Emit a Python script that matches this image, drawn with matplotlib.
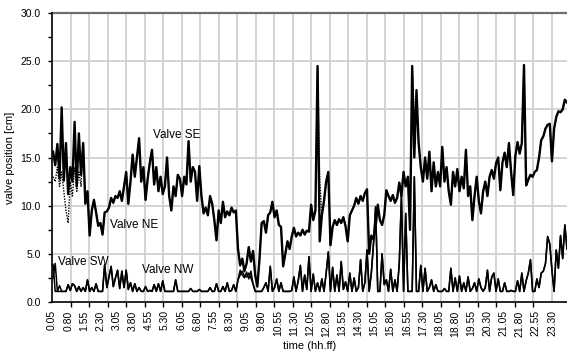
import matplotlib
matplotlib.use("Agg")
import matplotlib.pyplot as plt
import numpy as np

plt.rcParams['font.family'] = ['Liberation Sans', 'DejaVu Sans']

# time in hours (hh.ff), one reading every 0.1 h
time_h = [round(0.1 * k, 2) for k in range(1, 241)]

tick_labels = ["0.05", "0.80", "1.55", "2.30", "3.05", "3.80", "4.55", "5.30",
               "6.05", "6.80", "7.55", "8.30", "9.05", "9.80", "10.55", "11.30",
               "12.05", "12.80", "13.55", "14.30", "15.05", "15.80", "16.55",
               "17.30", "18.05", "18.80", "19.55", "20.30", "21.05", "21.80",
               "22.55", "23.30"]
tick_pos = [float(s) for s in tick_labels]

valve_se = [
    15.6, 14.2, 16.4, 12.8, 20.2, 12.6, 16.5, 11.2, 14.0, 12.5,
    18.7, 12.0, 17.5, 13.2, 16.5, 10.2, 11.5, 6.9, 9.5, 10.6,
    9.3, 7.9, 8.2, 7.0, 9.3, 9.4, 9.8, 10.8, 10.3, 11.0,
    10.8, 11.5, 10.5, 12.0, 13.5, 10.2, 12.5, 15.3, 13.0, 15.0,
    17.0, 12.5, 14.0, 10.6, 12.8, 14.5, 15.8, 12.2, 14.0, 11.5,
    13.0, 11.2, 12.0, 15.0, 11.0, 9.5, 12.0, 11.0, 13.2, 12.8,
    11.0, 13.0, 12.2, 16.7, 12.5, 14.0, 13.5, 10.5, 14.1, 11.0,
    9.2, 9.8, 9.0, 11.0, 10.2, 8.5, 6.4, 9.5, 8.2, 10.4,
    8.8, 9.4, 9.0, 9.8, 9.3, 9.5, 5.5, 3.8, 4.5, 3.2,
    4.0, 5.7, 4.2, 5.3, 2.8, 1.6, 4.5, 8.2, 8.4, 7.2,
    9.0, 9.3, 10.4, 8.8, 9.5, 8.0, 7.8, 3.7, 5.0, 6.3,
    5.5, 6.8, 7.7, 6.8, 7.2, 6.9, 7.5, 7.0, 7.4, 7.3,
    10.1, 8.5, 9.5, 24.5, 6.3, 9.0, 10.5, 12.5, 13.5, 5.9,
    7.8, 8.5, 8.0, 8.6, 8.2, 8.8, 7.9, 6.3, 9.0, 9.5,
    10.0, 10.8, 10.2, 11.0, 10.5, 11.3, 11.7, 5.0, 6.9, 6.5,
    7.8, 10.1, 8.5, 8.0, 9.0, 11.6, 11.0, 10.5, 11.1, 10.3,
    10.8, 12.4, 11.0, 13.5, 12.0, 13.0, 7.5, 24.5, 15.0, 22.0,
    16.5, 14.0, 12.5, 15.0, 12.8, 15.6, 11.5, 14.5, 12.0, 13.5,
    12.0, 16.1, 12.5, 14.0, 11.5, 10.1, 13.5, 12.0, 13.8, 11.5,
    13.0, 11.8, 15.8, 11.0, 12.0, 8.5, 11.0, 13.0, 10.5, 9.2,
    11.5, 12.5, 11.0, 13.0, 13.7, 12.8, 14.4, 15.0, 11.6, 14.5,
    15.5, 14.0, 16.5, 13.5, 11.1, 15.2, 16.6, 15.4, 16.5, 24.6,
    12.1, 12.7, 13.2, 13.0, 13.5, 13.7, 15.0, 16.8, 17.2, 18.0,
    18.4, 18.5, 14.6, 18.0, 19.2, 19.8, 19.7, 20.0, 21.0, 20.7,
]

valve_ne = [
    13.0, 12.5, 14.0, 12.0, 13.5, 11.5, 9.5, 8.2, 12.5, 11.0,
    14.0, 11.5, 13.5, 12.0, 16.5, 10.2, 11.5, 6.9, 9.5, 10.6,
    9.3, 7.9, 8.2, 7.0, 9.3, 9.4, 9.8, 10.8, 10.3, 11.0,
    10.8, 11.5, 10.5, 12.0, 13.5, 10.2, 12.5, 15.3, 13.0, 15.0,
    17.0, 12.5, 14.0, 10.6, 12.8, 14.5, 15.8, 12.2, 14.0, 11.5,
    13.0, 11.2, 12.0, 15.0, 11.0, 9.5, 12.0, 11.0, 13.2, 12.8,
    11.0, 13.0, 12.2, 16.7, 12.5, 14.0, 13.5, 10.5, 14.1, 11.0,
    9.2, 9.8, 9.0, 11.0, 10.2, 8.5, 6.4, 9.5, 8.2, 10.4,
    8.8, 9.4, 9.0, 9.8, 9.3, 9.5, 5.5, 3.8, 4.5, 3.2,
    4.0, 5.7, 4.2, 5.3, 2.8, 1.6, 4.5, 8.2, 8.4, 7.2,
    9.0, 9.3, 10.4, 8.8, 9.5, 8.0, 7.8, 3.7, 5.0, 6.3,
    5.5, 6.8, 7.7, 6.8, 7.2, 6.9, 7.5, 7.0, 7.4, 7.3,
    10.1, 8.5, 9.5, 24.5, 12.8, 9.0, 10.5, 12.5, 13.5, 5.9,
    7.8, 8.5, 8.0, 8.6, 8.2, 8.8, 7.9, 6.3, 9.0, 9.5,
    10.0, 10.8, 10.2, 11.0, 10.5, 11.3, 11.7, 5.0, 6.9, 6.5,
    7.8, 10.1, 8.5, 8.0, 9.0, 11.6, 11.0, 10.5, 11.1, 10.3,
    10.8, 12.4, 11.0, 13.5, 12.0, 13.0, 7.5, 24.5, 19.0, 21.0,
    16.5, 14.0, 12.5, 15.0, 12.8, 15.6, 11.5, 14.5, 12.0, 13.5,
    12.0, 16.1, 12.5, 14.0, 11.5, 10.1, 13.5, 12.0, 13.8, 11.5,
    13.0, 11.8, 15.8, 11.0, 12.0, 8.5, 11.0, 13.0, 10.5, 9.2,
    11.5, 12.5, 11.0, 13.0, 13.7, 12.8, 14.4, 15.0, 11.6, 14.5,
    15.5, 14.0, 16.5, 13.5, 11.1, 15.2, 16.6, 15.4, 16.5, 24.6,
    12.1, 12.7, 13.2, 13.0, 13.5, 13.7, 15.0, 16.8, 17.2, 18.0,
    18.4, 18.5, 14.6, 18.0, 19.2, 19.8, 19.7, 20.0, 21.0, 20.7,
]

valve_nw = [
    2.5, 4.0, 1.1, 1.7, 1.1, 1.1, 1.1, 1.8, 1.2, 1.9,
    1.7, 1.1, 1.6, 1.1, 1.5, 1.1, 2.3, 1.1, 1.5, 1.1,
    1.9, 1.1, 1.1, 1.1, 3.9, 1.5, 2.6, 3.7, 1.6, 2.5,
    3.3, 1.4, 3.2, 1.5, 3.3, 1.3, 2.0, 1.1, 1.9, 1.1,
    1.5, 1.1, 1.1, 1.6, 1.1, 1.2, 1.1, 1.8, 1.1, 1.9,
    1.1, 2.2, 1.1, 1.1, 1.1, 1.1, 1.1, 2.3, 1.1, 1.1,
    1.1, 1.1, 1.1, 1.1, 1.4, 1.1, 1.1, 1.1, 1.3, 1.1,
    1.1, 1.1, 1.1, 1.5, 1.1, 1.1, 1.9, 1.1, 1.1, 1.6,
    1.1, 2.0, 1.1, 1.2, 1.8, 1.1, 2.3, 3.3, 2.8, 2.5,
    3.1, 2.4, 3.2, 1.9, 1.1, 1.1, 1.1, 1.1, 1.5, 2.0,
    1.1, 3.7, 1.1, 1.5, 2.4, 1.1, 2.0, 1.1, 1.1, 1.1,
    1.1, 1.2, 2.6, 1.1, 2.2, 3.8, 1.1, 2.8, 1.3, 4.7,
    1.1, 2.9, 1.1, 2.0, 1.1, 2.4, 1.1, 3.0, 5.2, 1.1,
    3.6, 1.1, 2.8, 1.1, 4.2, 1.3, 2.1, 1.1, 3.0, 1.1,
    2.5, 1.1, 1.5, 4.4, 1.1, 2.0, 5.4, 1.1, 3.0, 6.0,
    9.9, 1.1, 1.1, 5.0, 1.8, 2.3, 1.1, 3.4, 1.1, 2.3,
    1.1, 4.0, 11.0, 1.1, 9.2, 1.1, 1.1, 1.1, 13.0, 1.1,
    1.1, 3.8, 1.1, 3.5, 1.1, 1.5, 2.3, 1.1, 1.8, 1.1,
    1.1, 1.1, 1.4, 1.1, 1.1, 3.5, 1.1, 2.5, 1.1, 2.7,
    1.1, 2.0, 1.1, 2.6, 1.1, 1.4, 2.0, 1.1, 2.4, 1.5,
    1.1, 1.5, 3.3, 1.1, 2.6, 3.0, 1.1, 2.4, 1.1, 1.1,
    2.0, 1.1, 1.1, 1.2, 1.1, 1.1, 2.2, 1.1, 3.0, 1.1,
    2.2, 3.0, 4.4, 1.1, 1.1, 2.4, 1.5, 3.0, 3.2, 4.0,
    6.8, 6.0, 3.3, 1.1, 5.4, 3.5, 6.9, 4.5, 8.0, 5.5,
]

valve_sw = [
    3.9, 1.1, 1.1, 1.1, 1.1, 1.1, 1.1, 1.8, 1.2, 1.9,
    1.7, 1.1, 1.6, 1.1, 1.5, 1.1, 2.3, 1.1, 1.5, 1.1,
    1.9, 1.1, 1.1, 1.1, 3.9, 1.5, 2.6, 3.7, 1.6, 2.5,
    3.3, 1.4, 3.2, 1.5, 3.3, 1.3, 2.0, 1.1, 1.9, 1.1,
    1.5, 1.1, 1.1, 1.6, 1.1, 1.2, 1.1, 1.8, 1.1, 1.9,
    1.1, 2.2, 1.1, 1.1, 1.1, 1.1, 1.1, 2.3, 1.1, 1.1,
    1.1, 1.1, 1.1, 1.1, 1.4, 1.1, 1.1, 1.1, 1.3, 1.1,
    1.1, 1.1, 1.1, 1.5, 1.1, 1.1, 1.9, 1.1, 1.1, 1.6,
    1.1, 2.0, 1.1, 1.2, 1.8, 1.1, 2.3, 2.8, 3.2, 2.7,
    2.6, 3.0, 2.5, 1.9, 1.1, 1.1, 1.1, 1.1, 1.5, 2.0,
    1.1, 3.7, 1.1, 1.5, 2.4, 1.1, 2.0, 1.1, 1.1, 1.1,
    1.1, 1.2, 2.6, 1.1, 2.2, 3.8, 1.1, 2.8, 1.3, 4.7,
    1.1, 2.9, 1.1, 2.0, 1.1, 2.4, 1.1, 3.0, 5.2, 1.1,
    3.6, 1.1, 2.8, 1.1, 4.2, 1.3, 2.1, 1.1, 3.0, 1.1,
    2.5, 1.1, 1.5, 4.4, 1.1, 2.0, 5.4, 1.1, 3.0, 6.0,
    9.9, 1.1, 1.1, 5.0, 1.8, 2.3, 1.1, 3.4, 1.1, 2.3,
    1.1, 4.0, 11.0, 1.1, 9.2, 1.1, 1.1, 1.1, 13.0, 1.1,
    1.1, 3.8, 1.1, 3.5, 1.1, 1.5, 2.3, 1.1, 1.8, 1.1,
    1.1, 1.1, 1.4, 1.1, 1.1, 3.5, 1.1, 2.5, 1.1, 2.7,
    1.1, 2.0, 1.1, 2.6, 1.1, 1.4, 2.0, 1.1, 2.4, 1.5,
    1.1, 1.5, 3.3, 1.1, 2.6, 3.0, 1.1, 2.4, 1.1, 1.1,
    2.0, 1.1, 1.1, 1.2, 1.1, 1.1, 2.2, 1.1, 3.0, 1.1,
    2.2, 3.0, 4.4, 1.1, 1.1, 2.4, 1.5, 3.0, 3.2, 4.0,
    6.8, 6.0, 3.3, 1.1, 5.4, 3.5, 6.9, 4.5, 8.0, 5.5,
]

fig = plt.figure(figsize=(5.67, 3.52), dpi=100)
ax = fig.add_axes([52 / 567, 50 / 352, 515 / 567, 289 / 352])

ax.plot(time_h, valve_sw, color='black', lw=1.1, zorder=3)
ax.plot(time_h, valve_nw, color='black', lw=1.1, zorder=3)
ax.plot(time_h, valve_ne, color='black', lw=1.0, ls=(0, (1, 1)), zorder=3)
ax.plot(time_h, valve_se, color='black', lw=1.7, zorder=4)

ax.set_xlim(0.05, 24.0)
ax.set_ylim(0, 30)

# category labels every 0.75 h
ax.set_xticks(tick_pos)
ax.set_xticklabels(tick_labels, rotation=90, fontsize=7.5)
ax.tick_params(axis='x', which='major', length=0, pad=6)
# tick marks / vertical gridlines
grid_x = np.linspace(tick_pos[0], tick_pos[-1], 28)
ax.set_xticks(grid_x, minor=True)
ax.tick_params(axis='x', which='minor', length=3.5, width=1.0, direction='out')
for gx in grid_x[1:]:
    ax.axvline(gx, color='#d0d0d0', lw=1.3, zorder=1)

ax.set_yticks(np.arange(0, 31, 5))
ax.set_yticklabels([f"{v:.1f}" for v in np.arange(0, 31, 5)], fontsize=7.5)
ax.set_yticks(np.arange(2.5, 30, 5), minor=True)
ax.tick_params(axis='y', which='both', length=3, width=1.0, direction='out', pad=5)
for gy in np.arange(5, 30, 5):
    ax.axhline(gy, color='#d0d0d0', lw=1.3, zorder=1)
ax.axhline(30, color='#6e6e6e', lw=1.6, zorder=2, clip_on=False)

ax.spines['right'].set_visible(False)
ax.spines['top'].set_visible(False)
ax.spines['left'].set_linewidth(1.2)
ax.spines['bottom'].set_linewidth(1.2)
ax.spines['left'].set_zorder(5)
ax.spines['bottom'].set_zorder(5)

ax.set_ylabel("valve position [cm]", fontsize=8, labelpad=4)
ax.set_xlabel("time (hh.ff)", fontsize=8, labelpad=3)

ax.text(4.75, 17.3, "Valve SE", fontsize=8.5, va='center', ha='left', zorder=6)
ax.text(2.75, 8.0, "Valve NE", fontsize=8.5, va='center', ha='left', zorder=6)
ax.text(0.35, 4.15, "Valve SW", fontsize=8.5, va='center', ha='left', zorder=6)
ax.text(4.25, 3.3, "Valve NW", fontsize=8.5, va='center', ha='left', zorder=6)

fig.savefig("out.png", dpi=100)
